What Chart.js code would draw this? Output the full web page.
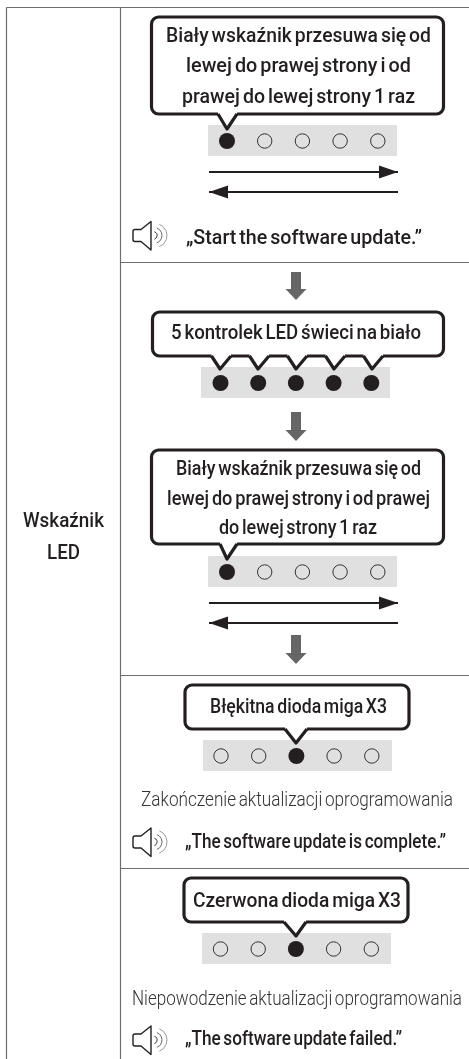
<!DOCTYPE html>
<html lang="pl">
<head>
<meta charset="utf-8">
<title>Wskaźnik LED</title>
<style>
  html, body { margin: 0; padding: 0; background: #fff; }
  canvas { display: block; }
</style>
</head>
<body>
<canvas id="chart" width="469" height="1059"></canvas>
<script src="https://cdn.jsdelivr.net/npm/chart.js@4/dist/chart.umd.min.js"></script>
<script>
// LED states per row, 1 = lit, 0 = off
const ledRow1 = [1, 0, 0, 0, 0];
const ledRow2 = [1, 1, 1, 1, 1];
const ledRow3 = [1, 0, 0, 0, 0];
const ledRow4 = [0, 0, 1, 0, 0];
const ledRow5 = [0, 0, 1, 0, 0];

const rowLabel = ['Wskaźnik', 'LED'];
const callout1Text = ['Biały wskaźnik przesuwa się od', 'lewej do prawej strony i od', 'prawej do lewej strony 1 raz'];
const callout2Text = ['5 kontrolek LED świeci na biało'];
const callout3Text = ['Biały wskaźnik przesuwa się od', 'lewej do prawej strony i od prawej', 'do lewej strony 1 raz'];
const callout4Text = ['Błękitna dioda miga X3'];
const callout5Text = ['Czerwona dioda miga X3'];
const statusText = ['Zakończenie aktualizacji oprogramowania', 'Niepowodzenie aktualizacji oprogramowania'];
const voiceText = ['„Start the software update.”', '„The software update is complete.”', '„The software update failed.”'];

// layout, the axes run in page pixels
const LED_STEP = 37.7;
const ledLayout = [
  { states: ledRow1, x: 227, y: 141, band: [208, 397] },
  { states: ledRow2, x: 220.5, y: 383, band: [201, 390] },
  { states: ledRow3, x: 227, y: 572, band: [208, 397] },
  { states: ledRow4, x: 221, y: 756, band: [203, 392] },
  { states: ledRow5, x: 220.5, y: 949, band: [202, 391] },
];
const gridLines = [
  [[6.5, 7.5], [469, 7.5]],
  [[6.5, 7.5], [6.5, 1059]],
  [[120.5, 7.5], [120.5, 1059]],
  [[120.5, 262.5], [469, 262.5]],
  [[120.5, 675.5], [469, 675.5]],
  [[120.5, 868.5], [469, 868.5]],
];
const moveArrows = [
  { y: 172, from: 209, to: 398 },
  { y: 192, from: 398, to: 209 },
  { y: 603, from: 209, to: 398 },
  { y: 623, from: 398, to: 209 },
];
const downArrows = [
  { x: 296, top: 272, bottom: 300 },
  { x: 296, top: 412, bottom: 441 },
  { x: 296, top: 635, bottom: 664 },
];
const callouts = [
  { box: [151.5, 17, 443.5, 114], tails: [[218, 237, 227, 129]], lines: callout1Text,
    text: [[166, 431, 42], [186, 411, 72], [182, 415, 103]] },
  { box: [152.5, 312, 443.5, 356], tails: [220, 258, 296, 334, 372].map(x => [x - 8.5, x + 11, x, 369]), lines: callout2Text,
    text: [[171, 421, 339]] },
  { box: [151.5, 450, 443.5, 544], tails: [[220, 237, 227, 559]], lines: callout3Text,
    text: [[176, 421, 475], [167, 430, 505], [219, 377, 534]] },
  { box: [185, 685, 409, 729], tails: [[285, 307, 296, 743]], lines: callout4Text,
    text: [[210, 387, 713]] },
  { box: [184, 878, 408, 922], tails: [[284, 306, 296, 936]], lines: callout5Text,
    text: [[193, 401, 907]] },
];
const statusPos = [[141, 453, 806], [132, 462, 1005]];
const voicePos = [[186, 422, 244, 235.5], [185, 446, 848, 842], [185, 402, 1045, 1040]];
const labelPos = [[23, 104, 527], [47, 80, 559]];

const lineColor = '#6e6e6e';
const ink = '#231f20';

// datasets
const datasets = [];

gridLines.forEach(seg => {
  datasets.push({
    data: seg.map(p => ({ x: p[0], y: p[1] })),
    showLine: true, borderColor: lineColor, borderWidth: 1.2, pointRadius: 0, order: 5,
  });
});

ledLayout.forEach(row => {
  datasets.push({
    data: row.band.map(x => ({ x, y: row.y - 0.5 })),
    showLine: true, borderColor: '#e0e0e0', borderWidth: 31, borderCapStyle: 'butt', pointRadius: 0, order: 4,
  });
  const pts = on => row.states
    .map((s, i) => ({ x: row.x + i * LED_STEP, y: row.y, s }))
    .filter(p => p.s === on);
  datasets.push({
    data: pts(1), showLine: false, pointRadius: 8, pointBackgroundColor: ink,
    pointBorderColor: ink, pointBorderWidth: 0, order: 1,
  });
  datasets.push({
    data: pts(0), showLine: false, pointRadius: 7.2, pointBackgroundColor: '#e0e0e0',
    pointBorderColor: '#333', pointBorderWidth: 1, order: 1,
  });
});

moveArrows.forEach(a => {
  datasets.push({
    data: [{ x: a.from, y: a.y }, { x: a.to, y: a.y }],
    showLine: true, borderColor: ink, borderWidth: 2.2, borderCapStyle: 'butt', pointRadius: 0, order: 3,
  });
  const dir = a.to > a.from ? 1 : -1;
  datasets.push({
    data: [{ x: a.to, y: a.y }, { x: a.to - dir * 19, y: a.y - 6.5 }, { x: a.to - dir * 19, y: a.y + 6.5 }, { x: a.to, y: a.y }],
    showLine: true, fill: 'shape', backgroundColor: ink, borderWidth: 0, pointRadius: 0, order: 2, tension: 0,
  });
});

downArrows.forEach(a => {
  const shape = [
    [a.x - 5, a.top], [a.x + 5, a.top], [a.x + 5, a.bottom - 11], [a.x + 10.5, a.bottom - 11],
    [a.x, a.bottom], [a.x - 10.5, a.bottom - 11], [a.x - 5, a.bottom - 11], [a.x - 5, a.top],
  ];
  datasets.push({
    data: shape.map(p => ({ x: p[0], y: p[1] })),
    showLine: true, fill: 'shape', backgroundColor: '#666666', borderWidth: 0, pointRadius: 0, order: 2, tension: 0,
  });
});

// text squeezed or stretched to the span it has in the picture
function fitText(ctx, text, x0, x1, baseline, font, color) {
  ctx.save();
  ctx.font = font;
  ctx.wordSpacing = '-2px';
  ctx.fillStyle = color;
  ctx.textAlign = 'left';
  ctx.textBaseline = 'alphabetic';
  const w = ctx.measureText(text).width;
  ctx.translate(x0, baseline);
  ctx.scale((x1 - x0) / w, 1);
  ctx.fillText(text, 0, 0);
  ctx.restore();
}

function drawSpeaker(ctx, sx, sy, cy) {
  const X = v => sx.getPixelForValue(v);
  const Y = v => sy.getPixelForValue(v);
  ctx.save();
  ctx.strokeStyle = ink;
  ctx.lineWidth = 1.4;
  ctx.lineJoin = 'round';
  ctx.beginPath();
  ctx.moveTo(X(151), Y(cy - 14));
  ctx.lineTo(X(151), Y(cy + 14.5));
  ctx.lineTo(X(141), Y(cy + 6));
  ctx.lineTo(X(135), Y(cy + 6));
  ctx.quadraticCurveTo(X(133), Y(cy + 6), X(133), Y(cy + 4));
  ctx.lineTo(X(133), Y(cy - 4));
  ctx.quadraticCurveTo(X(133), Y(cy - 6), X(135), Y(cy - 6));
  ctx.lineTo(X(141), Y(cy - 6));
  ctx.closePath();
  ctx.stroke();
  [[153, 4, '#333', 1], [154, 8, '#666', 1], [155, 12, '#999', 1]].forEach(a => {
    ctx.strokeStyle = a[2];
    ctx.lineWidth = a[3];
    ctx.beginPath();
    ctx.arc(X(a[0]), Y(cy), a[1], -Math.PI / 2.6, Math.PI / 2.6);
    ctx.stroke();
  });
  ctx.restore();
}

// callouts, speakers and text go on top of the datasets
const overlay = {
  id: 'overlay',
  afterDatasetsDraw(chart) {
    const ctx = chart.ctx;
    const sx = chart.scales.x;
    const sy = chart.scales.y;
    const X = v => sx.getPixelForValue(v);
    const Y = v => sy.getPixelForValue(v);

    callouts.forEach(c => {
      const [x0, y0, x1, y1] = c.box;
      ctx.save();
      ctx.lineWidth = 3.2;
      ctx.strokeStyle = ink;
      ctx.fillStyle = '#fff';
      ctx.lineJoin = 'round';
      ctx.beginPath();
      ctx.roundRect(X(x0), Y(y0), X(x1) - X(x0), Y(y1) - Y(y0), 7);
      ctx.fill();
      ctx.stroke();
      c.tails.forEach(t => {
        // white wedge also wipes the box border under the tail
        ctx.beginPath();
        ctx.moveTo(X(t[0]), Y(y1 - 2));
        ctx.lineTo(X(t[0]), Y(y1));
        ctx.lineTo(X(t[2]), Y(t[3]));
        ctx.lineTo(X(t[1]), Y(y1));
        ctx.lineTo(X(t[1]), Y(y1 - 2));
        ctx.closePath();
        ctx.fill();
        ctx.beginPath();
        ctx.moveTo(X(t[0]), Y(y1));
        ctx.lineTo(X(t[2]), Y(t[3]));
        ctx.lineTo(X(t[1]), Y(y1));
        ctx.stroke();
      });
      ctx.restore();
      c.lines.forEach((line, i) => {
        const p = c.text[i];
        fitText(ctx, line, X(p[0]), X(p[1]), Y(p[2]), '500 20.5px Roboto', ink);
      });
    });

    rowLabel.forEach((t, i) => {
      const p = labelPos[i];
      fitText(ctx, t, X(p[0]), X(p[1]), Y(p[2]), '500 20px Roboto', ink);
    });
    statusText.forEach((t, i) => {
      const p = statusPos[i];
      fitText(ctx, t, X(p[0]), X(p[1]), Y(p[2]), '300 21px Roboto', '#333333');
    });
    voiceText.forEach((t, i) => {
      const p = voicePos[i];
      fitText(ctx, t, X(p[0]), X(p[1]), Y(p[2]), '500 20.5px Roboto', ink);
      drawSpeaker(ctx, sx, sy, p[3]);
    });
  },
};

new Chart(document.getElementById('chart'), {
  type: 'scatter',
  data: { datasets },
  options: {
    responsive: false,
    animation: false,
    events: [],
    layout: { padding: 0, autoPadding: false },
    clip: false,
    plugins: { legend: { display: false }, tooltip: { enabled: false } },
    scales: {
      x: { type: 'linear', min: 0, max: 469, display: false },
      y: { type: 'linear', min: 0, max: 1059, reverse: true, display: false },
    },
  },
  plugins: [overlay],
});
</script>
</body>
</html>
